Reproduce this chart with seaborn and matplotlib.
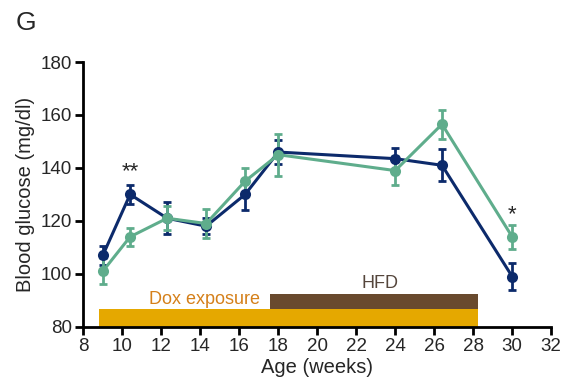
import numpy as np
import pandas as pd
import matplotlib
matplotlib.use("Agg")
import matplotlib.pyplot as plt
import seaborn as sns

# donnees
weeks = [9.0, 10.4, 12.3, 14.3, 16.3, 18.0, 24.0, 26.4, 30.0]
navy_mean = [107, 130, 121, 118, 130, 146, 143.5, 141, 99]
navy_err = [3.5, 3.5, 6, 3, 6, 4.5, 4, 6, 5]
green_mean = [101, 114, 121, 119, 135, 145, 139, 156.5, 114]
green_err = [5, 3.5, 4.5, 5.5, 5, 8, 5.5, 5.5, 4.5]

navy = "#0c2a6b"
green = "#5fad8c"

df = pd.DataFrame({
    "week": weeks * 2,
    "glucose": navy_mean + green_mean,
    "err": navy_err + green_err,
    "group": ["ctrl"] * len(weeks) + ["dox"] * len(weeks),
})

sns.set_style("ticks")
plt.rcParams["font.family"] = ["Liberation Sans", "DejaVu Sans"]

fig = plt.figure(figsize=(5.63, 3.9), dpi=100)
ax = fig.add_axes([0.148, 0.162, 0.831, 0.679])

# barres Dox / HFD
ax.fill_between([8.8, 28.25], 80, 86.6, color="#e5a800", lw=0, zorder=1)
ax.fill_between([17.6, 28.25], 86.6, 92.4, color="#694a2e", lw=0, zorder=1)
ax.text(14.2, 87.2, "Dox exposure", color="#d5801a", fontsize=13, ha="center", va="bottom")
ax.text(23.2, 93.0, "HFD", color="#55463c", fontsize=13, ha="center", va="bottom")

pal = {"ctrl": navy, "dox": green}
for g in ["ctrl", "dox"]:
    d = df[df["group"] == g]
    ax.errorbar(d["week"], d["glucose"], yerr=d["err"], fmt="none",
                ecolor=pal[g], elinewidth=2, capsize=3, capthick=2, zorder=3)
sns.lineplot(data=df, x="week", y="glucose", hue="group", palette=pal,
             marker="o", markersize=8, markeredgewidth=0, linewidth=2.2,
             legend=False, ax=ax, zorder=4)

ax.text(10.4, 134.5, "**", fontsize=16, ha="center", va="bottom")
ax.text(30.0, 118.5, "*", fontsize=16, ha="center", va="bottom")

ax.set_xlim(8, 32)
ax.set_ylim(80, 180)
ax.set_xticks(range(8, 33, 2))
ax.set_yticks(range(80, 181, 20))
ax.set_xlabel("Age (weeks)", fontsize=14.5, labelpad=2)
ax.set_ylabel("Blood glucose (mg/dl)", fontsize=14.5, labelpad=4)
ax.tick_params(labelsize=13.5, width=2, length=6, color="black", pad=2)
for s in ["left", "bottom"]:
    ax.spines[s].set_linewidth(2)
    ax.spines[s].set_color("black")
sns.despine(ax=ax)

fig.text(0.027, 0.94, "G", fontsize=19, ha="left", va="center")

fig.savefig("out.png", dpi=100)
